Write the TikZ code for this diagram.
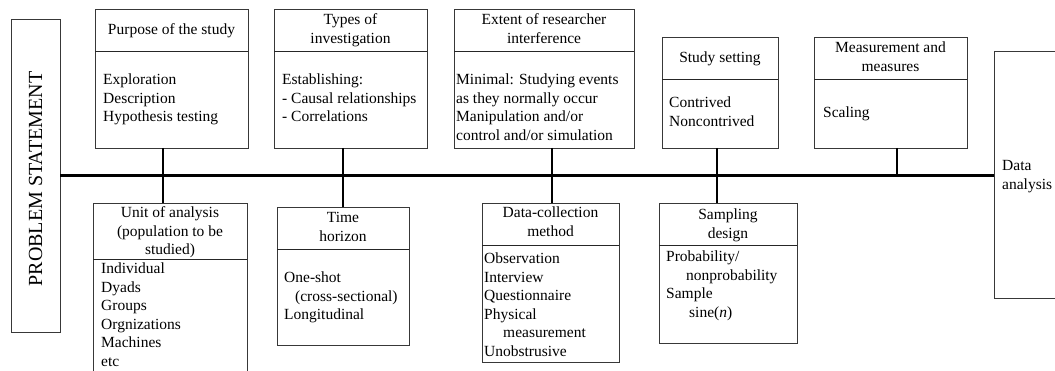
\documentclass[tikz,border=0pt]{standalone}
\usepackage{fontspec}
\setmainfont{Liberation Serif}
\newcommand\bodyfs{\fontsize{15.5}{18.5}\selectfont}
\newcommand\leftlines[1]{\parbox[t]{190pt}{\bodyfs\raggedright #1}}
\newcommand\midlines[1]{\parbox[t]{190pt}{\bodyfs\centering #1}}
\begin{document}
\begin{tikzpicture}[x=1pt,y=-1pt,
  box/.style={draw=black!78, line width=0.9pt, inner sep=0pt, outer sep=0pt, anchor=north west},
  head/.style={inner sep=0pt, anchor=base},
  body/.style={inner sep=0pt, anchor=base west},
  spine/.style={line width=2.3pt, black},
  divider/.style={line width=0.9pt, black!85}]
\useasboundingbox (0,0) rectangle (1055,371);
\clip (0,0) rectangle (1055,371);

% outer boxes
\node[box, minimum width=49pt, minimum height=313pt] (problem) at (11,19) {};
\node[box, minimum width=100pt, minimum height=247pt] (analysis) at (994,51) {};

% upper boxes
\node[box, minimum width=153pt, minimum height=139pt] (purpose) at (95,9) {};
\node[box, minimum width=153pt, minimum height=139pt] (types) at (274,9) {};
\node[box, minimum width=180pt, minimum height=139pt] (extent) at (454,9) {};
\node[box, minimum width=116pt, minimum height=111pt] (setting) at (662,37) {};
\node[box, minimum width=153pt, minimum height=111pt] (measure) at (814,37) {};

% lower boxes
\node[box, minimum width=154pt, minimum height=200pt] (unit) at (93,203) {};
\node[box, minimum width=132pt, minimum height=138pt] (time) at (277,207) {};
\node[box, minimum width=137pt, minimum height=159pt] (collect) at (482,203) {};
\node[box, minimum width=138pt, minimum height=140pt] (sampling) at (659,203) {};

% header dividers
\draw[divider] (purpose.west |- 0,51) -- (purpose.east |- 0,51);
\draw[divider] (types.west |- 0,51) -- (types.east |- 0,51);
\draw[divider] (extent.west |- 0,51) -- (extent.east |- 0,51);
\draw[divider] (setting.west |- 0,79) -- (setting.east |- 0,79);
\draw[divider] (measure.west |- 0,79) -- (measure.east |- 0,79);
\draw[divider] (unit.west |- 0,259) -- (unit.east |- 0,259);
\draw[divider] (time.west |- 0,249) -- (time.east |- 0,249);
\draw[divider] (collect.west |- 0,245) -- (collect.east |- 0,245);
\draw[divider] (sampling.west |- 0,245) -- (sampling.east |- 0,245);

% main line and its junctions
\coordinate (spineend) at (problem.east -| analysis.west);
\draw[spine] (problem.east) -- (spineend);
\coordinate (j1) at (163,175);
\coordinate (j2) at (343,175);
\coordinate (j3) at (552,175);
\coordinate (j4) at (717,175);
\coordinate (j5) at (897,175);
\draw[spine] (j1 |- purpose.south) -- (j1 |- unit.north);
\draw[spine] (j2 |- types.south) -- (j2 |- time.north);
\draw[spine] (j3 |- extent.south) -- (j3 |- collect.north);
\draw[spine] (j4 |- setting.south) -- (j4 |- sampling.north);
\draw[spine] (j5 |- measure.south) -- (j5);

% texts
\node[inner sep=0pt, rotate=90, font=\fontsize{20}{24}\selectfont] (problemtxt) at (35.5,179) {PROBLEM STATEMENT};
\node[body] (analysistxt) at (1002,171) {\leftlines{Data\\analysis}};

\node[head] (purposeH) at (171.5,35) {\midlines{Purpose of the study}};
\node[body] (purposeB) at (103,85) {\leftlines{Exploration\\Description\\Hypothesis testing}};

\node[head] (typesH) at (350.5,25) {\midlines{Types of\\investigation}};
\node[body] (typesB) at (282,85) {\leftlines{Establishing:\\- Causal relationships\\- Correlations}};

\node[head] (extentH) at (544,25) {\midlines{Extent of researcher\\interference}};
\node[body] (extentB) at (456,85) {\leftlines{Minimal: Studying events\\as they normally occur\\Manipulation and/or\\control and/or simulation}};

\node[head] (settingH) at (720,63) {\midlines{Study setting}};
\node[body] (settingB) at (669,108) {\leftlines{Contrived\\Noncontrived}};

\node[head] (measureH) at (890.5,53) {\midlines{Measurement and\\measures}};
\node[body] (measureB) at (823,118) {\leftlines{Scaling}};

\node[head] (unitH) at (170,218) {\midlines{Unit of analysis\\(population to be\\studied)}};
\node[body] (unitB) at (101,274) {\leftlines{Individual\\Dyads\\Groups\\Orgnizations\\Machines\\etc}};

\node[head] (timeH) at (343,223) {\midlines{Time\\horizon}};
\node[body] (timeB) at (284,283) {\leftlines{One-shot\\\hspace*{11pt}(cross-sectional)\\Longitudinal}};

\node[head] (collectH) at (550.5,218) {\midlines{Data-collection\\method}};
\node[body] (collectB) at (484,264) {\leftlines{Observation\\Interview\\Questionnaire\\Physical\\\hspace*{19pt}measurement\\Unobstrusive}};

\node[head] (samplingH) at (728,220) {\midlines{Sampling\\design}};
\node[body] (samplingB) at (666,262) {\leftlines{Probability/\\\hspace*{20pt}nonprobability\\Sample\\\hspace*{23pt}sine(\textit{n})}};
\end{tikzpicture}
\end{document}
